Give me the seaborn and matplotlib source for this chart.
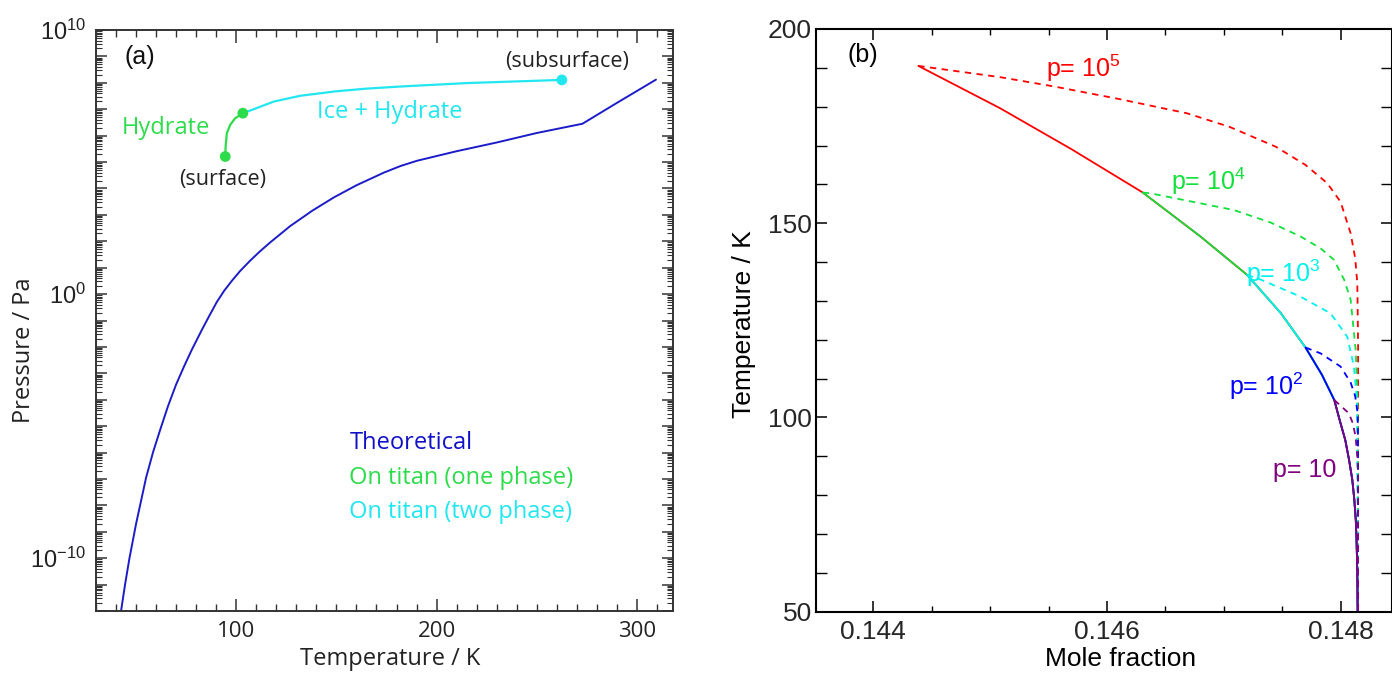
import numpy as np
import pandas as pd
import matplotlib
matplotlib.use("Agg")
import matplotlib.pyplot as plt
import seaborn as sns
from matplotlib.ticker import MultipleLocator, LogLocator, FuncFormatter, NullFormatter, FixedLocator

# ---------------- data: panel (a) ----------------
theo_T = [42.5, 44.5, 46.7, 50.0, 55.0, 58.5, 62.2, 66.0, 70.0, 74.0, 77.8, 82.8, 86.5, 90.3, 94.0, 98.0,
          102.0, 107.0, 112.0, 117.0, 127.0, 138.0, 148.7, 160.0, 173.7, 182.0, 190.3, 210.0, 230.0,
          250.0, 272.8, 290.0, 309.5]
theo_logP = [-12.0, -11.0, -10.0, -8.70, -6.95, -5.98, -5.10, -4.23, -3.42, -2.73, -2.11, -1.36, -0.83, -0.30, 0.13, 0.52,
             0.88, 1.27, 1.63, 1.96, 2.58, 3.16, 3.66, 4.12, 4.60, 4.85, 5.05, 5.41, 5.74,
             6.10, 6.45, 7.24, 8.12]

hyd_T = [94.5, 94.7, 95.3, 97.0, 99.5, 103.3]
hyd_logP = [5.21, 5.59, 6.09, 6.41, 6.66, 6.85]

ice_T = [103.3, 108.7, 118.7, 132.0, 150.0, 165.0, 182.0, 215.0, 262.5]
ice_logP = [6.85, 7.00, 7.29, 7.51, 7.68, 7.78, 7.86, 7.99, 8.11]

dot_hyd_T = [94.5, 103.3]
dot_hyd_logP = [5.21, 6.85]
dot_ice_T = [262.5]
dot_ice_logP = [8.11]

# ---------------- data: panel (b) ----------------
main_x = [0.144386, 0.145086, 0.145700, 0.146307, 0.146800, 0.147200, 0.147490,
          0.147700, 0.147840, 0.147946, 0.147995, 0.148040, 0.148073, 0.148100, 0.148117,
          0.148130, 0.148137, 0.148143, 0.148146]
main_T = [190.5, 179.6, 169.0, 157.9, 146.6, 136.7, 126.8,
          118.0, 111.0, 104.5, 99.0, 94.2, 89.0, 84.0, 79.0,
          73.6, 68.0, 60.0, 50.0]

pressures = ["1e5", "1e4", "1e3", "1e2", "1e1"]
branch_T = [190.5, 157.9, 136.7, 118.0, 104.5]

dash_x = {
    "1e5": [0.144386, 0.145086, 0.145549, 0.146100, 0.146686, 0.147050, 0.147445, 0.147700,
            0.147886, 0.148000, 0.148086, 0.148125, 0.148143, 0.148150, 0.148150],
    "1e4": [0.146307, 0.146372, 0.147086, 0.147400, 0.147657, 0.147830, 0.147943, 0.148030,
            0.148086, 0.148129, 0.148145, 0.148150],
    "1e3": [0.147200, 0.147315, 0.147657, 0.147914, 0.148057, 0.148114, 0.148140, 0.148150],
    "1e2": [0.147700, 0.147829, 0.148000, 0.148086, 0.148125, 0.148146, 0.148149, 0.148150],
    "1e1": [0.147946, 0.148070, 0.148105, 0.148128, 0.148143, 0.148150, 0.148150],
}
dash_T = {
    "1e5": [190.5, 187.6, 185.2, 182.0, 178.3, 174.8, 169.7, 165.0,
            160.3, 155.5, 147.4, 141.0, 134.6, 118.0, 50.0],
    "1e4": [157.9, 157.7, 153.4, 150.2, 146.6, 143.5, 140.6, 135.5,
            130.3, 117.4, 104.5, 50.0],
    "1e3": [136.7, 135.5, 131.1, 126.8, 120.8, 113.1, 104.5, 50.0],
    "1e2": [118.0, 116.5, 113.1, 109.0, 105.5, 101.1, 95.0, 50.0],
    "1e1": [104.5, 101.1, 98.5, 95.1, 90.0, 86.0, 50.0],
}
p_labels = [r"p= 10$^{5}$", r"p= 10$^{4}$", r"p= 10$^{3}$", r"p= 10$^{2}$", "p= 10"]
p_colors = ["#ff0000", "#12e03c", "#00f0f0", "#0000ff", "#800080"]
p_label_pos = [(0.145797, 190.0), (0.146868, 160.8), (0.147511, 137.2), (0.147366, 108.0), (0.147691, 86.5)]

# ---------------- style ----------------
sns.set_theme(style="ticks")
plt.rcParams["font.family"] = ["Liberation Sans", "DejaVu Sans"]
plt.rcParams["mathtext.fontset"] = "custom"
plt.rcParams["mathtext.rm"] = "Liberation Sans"
plt.rcParams["mathtext.it"] = "Liberation Sans:italic"
plt.rcParams["mathtext.bf"] = "Liberation Sans:bold"

fig = plt.figure(figsize=(13.92, 6.75), dpi=100)
axL = fig.add_axes([96 / 1392, 64 / 675, 577 / 1392, 581 / 675])
axR = fig.add_axes([816 / 1392, 63.3 / 675, 576 / 1392, 582.7 / 675])

BLUE = "#1c1cc8"
GREEN = "#2ddc4a"
CYAN = "#22e6f0"

# ---------------- panel (a) ----------------
axL.set_yscale("log")
df_theo = pd.DataFrame({"T": theo_T, "P": 10 ** np.array(theo_logP)})
df_hyd = pd.DataFrame({"T": hyd_T, "P": 10 ** np.array(hyd_logP)})
df_ice = pd.DataFrame({"T": ice_T, "P": 10 ** np.array(ice_logP)})
sns.lineplot(data=df_theo, x="T", y="P", ax=axL, color=BLUE, lw=1.4, sort=False, estimator=None)
sns.lineplot(data=df_hyd, x="T", y="P", ax=axL, color=GREEN, lw=1.6, sort=False, estimator=None)
sns.lineplot(data=df_ice, x="T", y="P", ax=axL, color=CYAN, lw=1.6, sort=False, estimator=None)
sns.scatterplot(x=dot_hyd_T, y=10 ** np.array(dot_hyd_logP), ax=axL, color=GREEN, s=60, edgecolor="none", zorder=5)
sns.scatterplot(x=dot_ice_T, y=10 ** np.array(dot_ice_logP), ax=axL, color=CYAN, s=60, edgecolor="none", zorder=5)

axL.set_xlim(30, 318)
axL.set_ylim(1e-12, 1e10)
axL.xaxis.set_major_locator(MultipleLocator(100))
axL.xaxis.set_minor_locator(MultipleLocator(10))
axL.yaxis.set_major_locator(LogLocator(base=10, numticks=40))
axL.yaxis.set_minor_locator(LogLocator(base=10, subs=np.arange(2, 10), numticks=400))
axL.yaxis.set_minor_formatter(NullFormatter())

def yfmt(v, pos):
    e = int(round(np.log10(v)))
    return r"$10^{%d}$" % e if e in (-10, 0, 10) else ""

axL.yaxis.set_major_formatter(FuncFormatter(yfmt))
axL.tick_params(which="both", direction="in", top=True, right=True, color="#333333")
axL.tick_params(axis="x", which="major", length=9, width=1.1, labelsize=16, pad=7,
                labelfontfamily="Open Sans", labelcolor="#222222")
axL.tick_params(axis="x", which="minor", length=5, width=1.0)
axL.tick_params(axis="y", which="major", length=8, width=1.1, labelsize=17, pad=7, labelcolor="#222222")
axL.tick_params(axis="y", which="minor", length=4, width=0.8)
for s in axL.spines.values():
    s.set_color("#333333")
    s.set_linewidth(1.4)

axL.set_xlabel("Temperature / K", fontsize=17, family="Open Sans", color="#222222")
axL.set_ylabel("Pressure / Pa", fontsize=17, family="Open Sans", color="#222222")
axL.xaxis.set_label_coords(0.51, -0.062)
axL.yaxis.set_label_coords(-0.104, 0.449)

axL.text(52, 10 ** 8.98, "(a)", fontsize=18, ha="center", va="center", color="#111111")
axL.text(265, 10 ** 8.80, "(subsurface)", fontsize=15.5, family="Open Sans", ha="center", va="center", color="#222222")
axL.text(93.3, 10 ** 4.33, "(surface)", fontsize=15.5, family="Open Sans", ha="center", va="center", color="#222222")
axL.text(64.9, 10 ** 6.30, "Hydrate", fontsize=17, family="Open Sans", ha="center", va="center", color=GREEN)
axL.text(176.5, 10 ** 6.91, "Ice + Hydrate", fontsize=17, family="Open Sans", ha="center", va="center", color=CYAN)
axL.text(156.5, 10 ** -5.65, "Theoretical", fontsize=17, family="Open Sans", ha="left", va="center", color="#1010c8")
axL.text(156.5, 10 ** -6.97, "On titan (one phase)", fontsize=17, family="Open Sans", ha="left", va="center", color=GREEN)
axL.text(156.5, 10 ** -8.24, "On titan (two phase)", fontsize=17, family="Open Sans", ha="left", va="center", color=CYAN)

# ---------------- panel (b) ----------------
mx = np.array(main_x)
mT = np.array(main_T)
for p, bT, col in zip(pressures, branch_T, p_colors):
    sel = mT <= bT + 1e-9
    sns.lineplot(x=mx[sel], y=mT[sel], ax=axR, color=col, lw=1.3, sort=False, estimator=None)
    sns.lineplot(x=dash_x[p], y=dash_T[p], ax=axR, color=col, lw=1.3, sort=False, estimator=None,
                 linestyle=(0, (3.5, 3)))

for lab, col, (lx, ly) in zip(p_labels, p_colors, p_label_pos):
    axR.text(lx, ly, lab, fontsize=18, color=col, ha="center", va="center")

axR.set_xlim(0.14351, 0.14844)
axR.set_ylim(50, 200)
axR.xaxis.set_major_locator(FixedLocator([0.144, 0.146, 0.148]))
axR.xaxis.set_minor_locator(MultipleLocator(0.0005))
axR.xaxis.set_major_formatter(FuncFormatter(lambda v, p: "%.3f" % v))
axR.yaxis.set_major_locator(MultipleLocator(50))
axR.yaxis.set_minor_locator(MultipleLocator(10))
axR.tick_params(which="both", direction="in", top=True, right=True, color="black")
axR.tick_params(axis="x", which="major", length=8, width=1.1, labelsize=19, pad=6)
axR.tick_params(axis="x", which="minor", length=4, width=1.0)
axR.tick_params(axis="y", which="major", length=8, width=1.1, labelsize=19, pad=3)
axR.tick_params(axis="y", which="minor", length=8, width=1.0)
for s in axR.spines.values():
    s.set_color("black")
    s.set_linewidth(1.5)

axR.set_xlabel("Mole fraction", fontsize=19, color="black")
axR.set_ylabel("Temperature / K", fontsize=19, color="black")
axR.xaxis.set_label_coords(0.529, -0.060)
axR.yaxis.set_label_coords(-0.104, 0.494)
axR.text(0.143912, 193.3, "(b)", fontsize=18, ha="center", va="center", color="black")

fig.savefig("out.png", dpi=100)
